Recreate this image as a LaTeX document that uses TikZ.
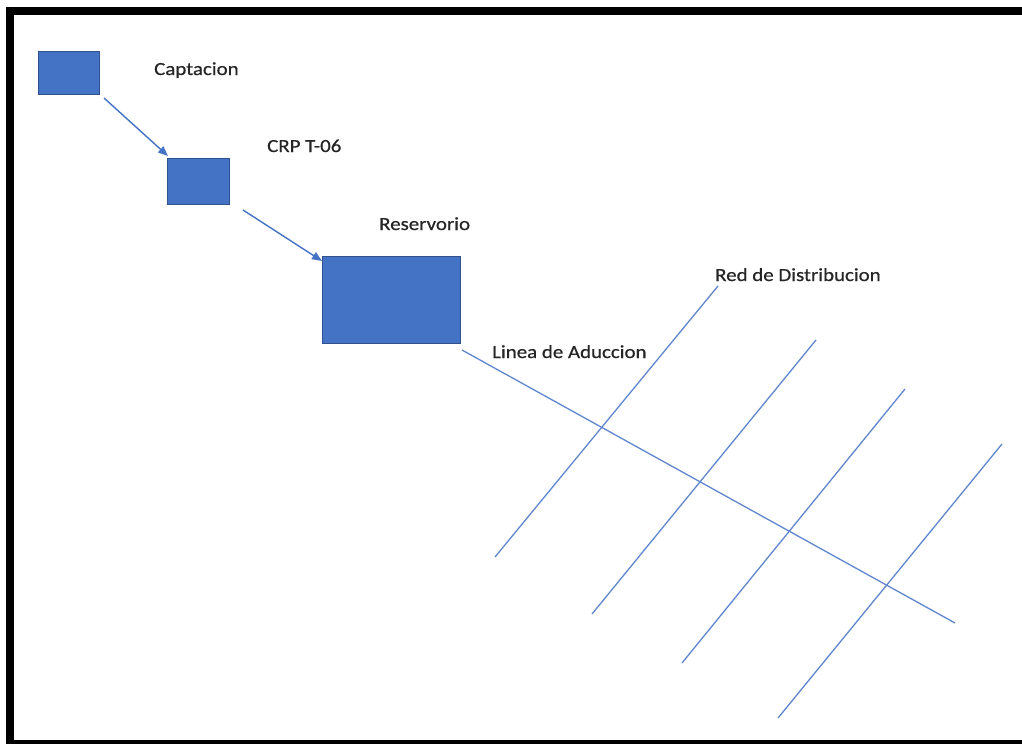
\documentclass[tikz,border=0pt]{standalone}
\usepackage{fontspec}
\setmainfont{Carlito}
\newfontfamily\lblfont[FakeStretch=1.13,FakeBold=0.6]{Carlito}
\usetikzlibrary{arrows.meta}
\definecolor{officeblue}{HTML}{4472C4}
\definecolor{officeedge}{HTML}{2F528F}
\definecolor{txtgray}{HTML}{262626}
\tikzset{
  box/.style={draw=officeedge, fill=officeblue, line width=1pt, inner sep=0pt, outer sep=0pt},
  lbl/.style={font=\lblfont\fontsize{18.5}{22}\selectfont, text=txtgray, inner sep=0pt, anchor=base west},
  arr/.style={draw=officeblue, line width=1.4pt, -{Triangle[length=10pt,width=8pt]}},
  pipe/.style={draw=officeblue!85, line width=1.3pt},
  frame/.style={fill=black, draw=none}
}
\begin{document}
\begin{tikzpicture}[x=1pt,y=-1pt]
\useasboundingbox (0,0) rectangle (1022,744);
\fill[white] (0,0) rectangle (1022,744);
% frame
\fill[frame] (6,7) rectangle (1022,15);
\fill[frame] (6,7) rectangle (14,744);
\fill[frame] (6,740) rectangle (1022,744);
% boxes
\node[box, minimum width=61pt, minimum height=43pt] (capt) at (68.5,72.5) {};
\node[box, minimum width=62pt, minimum height=46pt] (crp) at (198,181) {};
\node[box, minimum width=138pt, minimum height=87pt] (res) at (391,299.5) {};
% labels
\node[lbl] (lcapt) at (154,75) {Captacion};
\node[lbl] (lcrp) at (267,152) {CRP T-06};
\node[lbl] (lres) at (379,230) {Reservorio};
\node[lbl] (llin) at (492,358) {Linea de Aduccion};
\node[lbl] (lred) at (715,281) {Red de Distribucion};
% arrows
\draw[arr] ([shift={(5,4)}]capt.south east) -- ([shift={(1,-2)}]crp.north west);
\draw[arr] ([shift={(14,6)}]crp.south east) -- ([shift={(0,5)}]res.north west);
% adduction line
\coordinate (aend) at (955,623);
\draw[pipe] ([shift={(2,7)}]res.south east) -- (aend);
% distribution lines
\coordinate (d1a) at (495,557); \coordinate (d1b) at (718,286);
\coordinate (d2a) at (592,614); \coordinate (d2b) at (816,340);
\coordinate (d3a) at (682,663); \coordinate (d3b) at (905,389);
\coordinate (d4a) at (778,718); \coordinate (d4b) at (1002,444);
\draw[pipe] (d1a) -- (d1b);
\draw[pipe] (d2a) -- (d2b);
\draw[pipe] (d3a) -- (d3b);
\draw[pipe] (d4a) -- (d4b);
\end{tikzpicture}
\end{document}
